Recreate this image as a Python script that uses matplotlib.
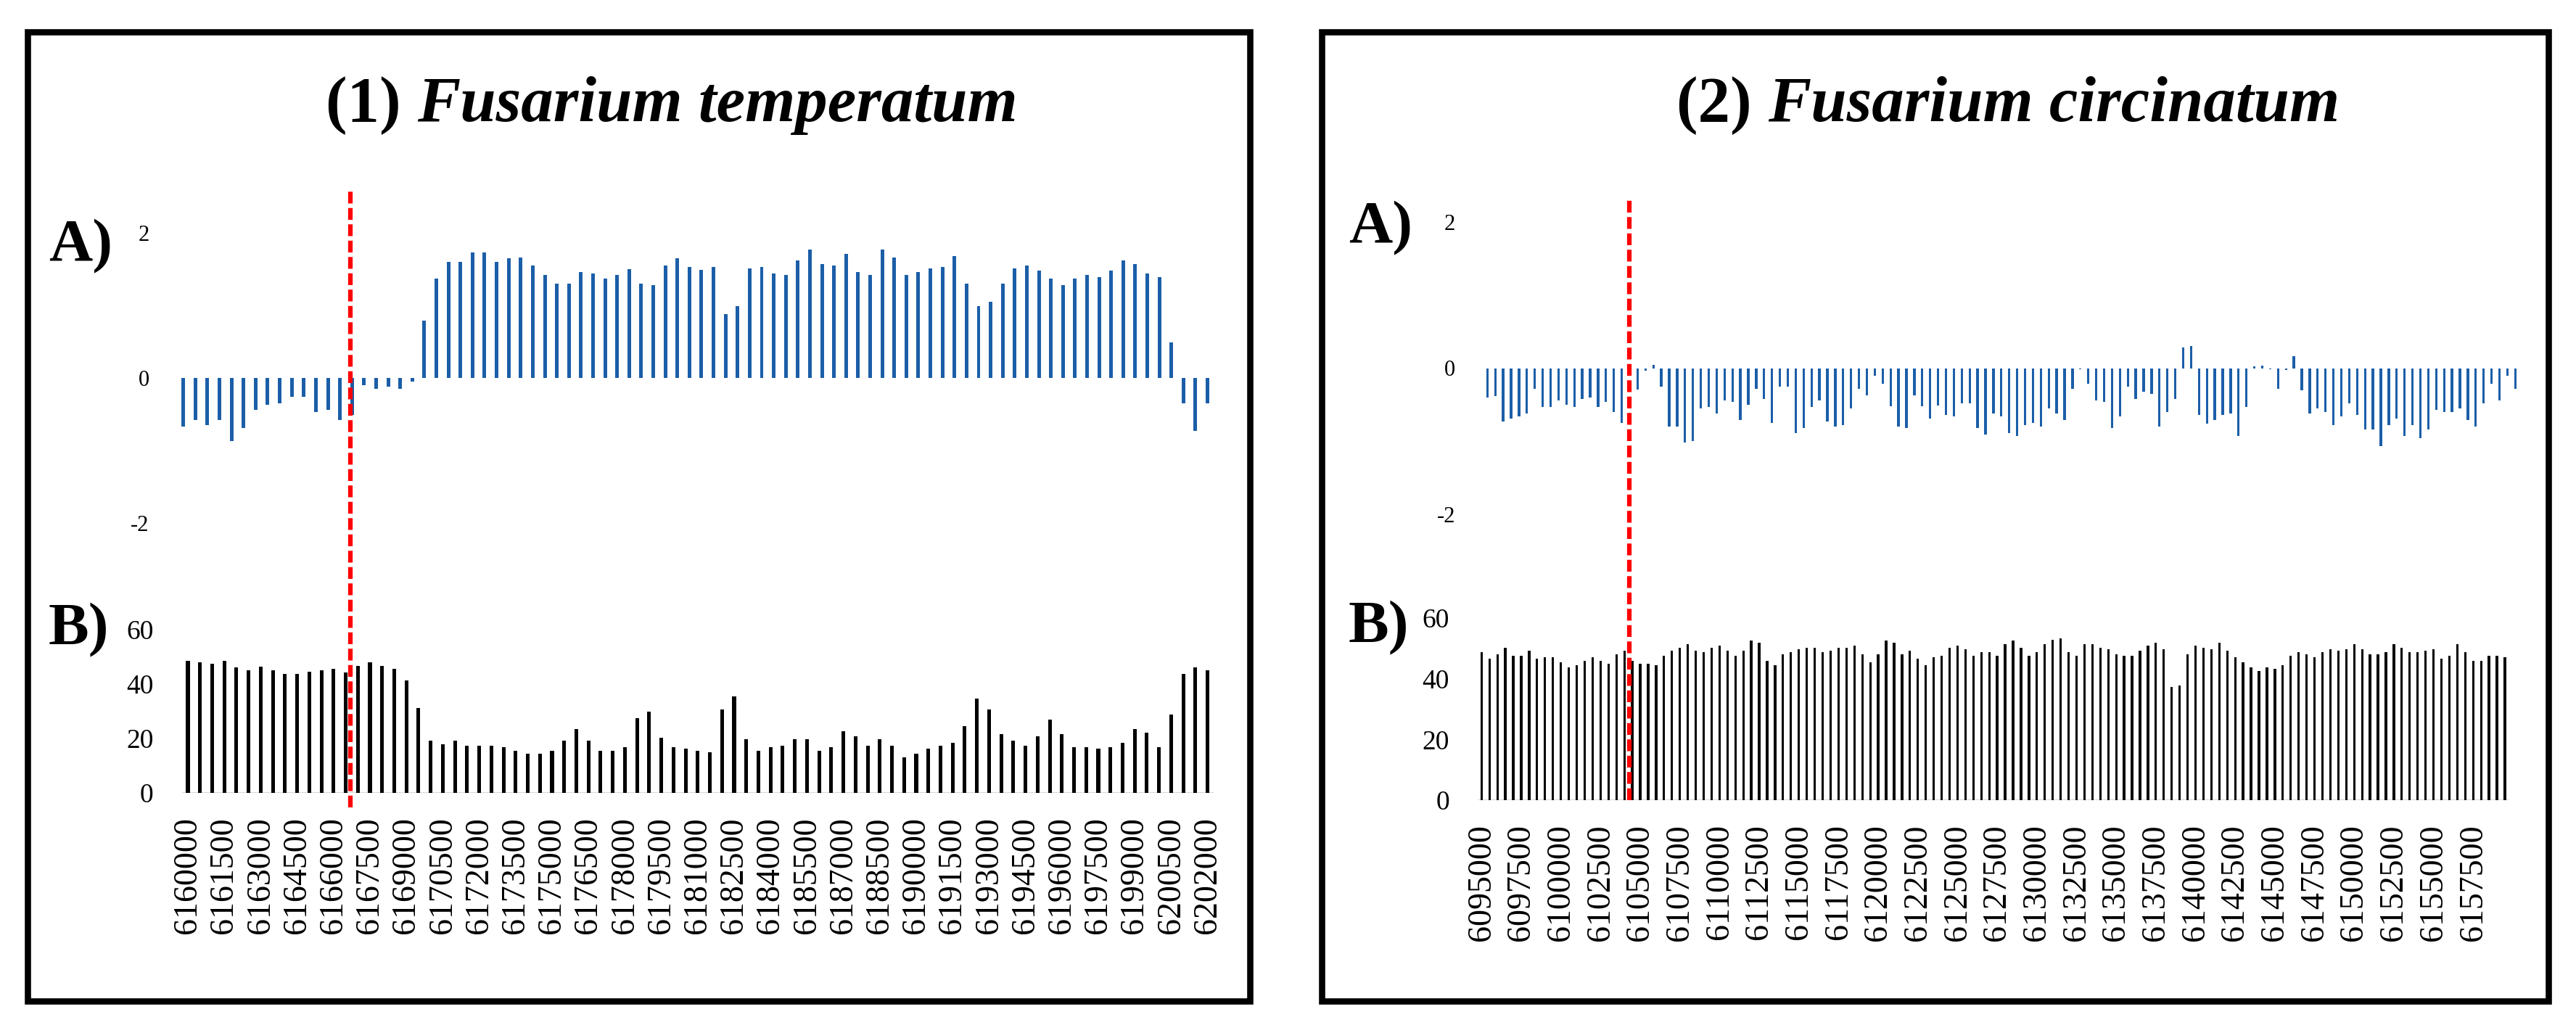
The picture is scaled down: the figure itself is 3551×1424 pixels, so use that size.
import numpy as np
import matplotlib
matplotlib.use("Agg")
import matplotlib.pyplot as plt
from matplotlib.patches import Rectangle

plt.rcParams['font.family'] = ['Liberation Serif', 'DejaVu Serif']

# ---- data ----
titles = ["(1) ", "(2) "]
species = ["Fusarium temperatum", "Fusarium circinatum"]

# panel 1 : A) hydropathy-like profile, B) GC content
p1_a = [-0.67, -0.58, -0.65, -0.58, -0.87, -0.69, -0.44, -0.37, -0.35, -0.26,
        -0.26, -0.47, -0.44, -0.58, -0.51, -0.10, -0.15, -0.12, -0.15, -0.05,
        0.79, 1.37, 1.60, 1.60, 1.73, 1.73, 1.60, 1.65, 1.66, 1.55,
        1.42, 1.30, 1.30, 1.46, 1.44, 1.37, 1.42, 1.50, 1.30, 1.28,
        1.55, 1.65, 1.53, 1.49, 1.53, 0.88, 0.99, 1.51, 1.53, 1.44,
        1.42, 1.62, 1.77, 1.57, 1.55, 1.71, 1.46, 1.42, 1.77, 1.66,
        1.42, 1.46, 1.51, 1.53, 1.68, 1.30, 0.99, 1.05, 1.30, 1.51,
        1.55, 1.48, 1.37, 1.28, 1.37, 1.42, 1.39, 1.48, 1.62, 1.57,
        1.44, 1.39, 0.49, -0.35, -0.73, -0.35]
p1_b = [48.5, 47.9, 47.4, 48.5, 46.1, 45.0, 46.3, 45.0, 43.8, 43.8,
        44.5, 45.0, 45.6, 44.4, 46.8, 47.9, 46.8, 45.6, 41.3, 31.3,
        19.1, 18.0, 19.1, 17.4, 17.4, 17.4, 16.8, 15.6, 14.3, 14.3,
        15.6, 19.1, 23.4, 19.1, 15.6, 15.6, 16.8, 27.5, 29.9, 20.4,
        16.8, 16.3, 15.6, 14.9, 30.6, 35.4, 19.7, 15.6, 16.8, 17.4,
        19.7, 19.7, 15.6, 16.8, 22.7, 20.9, 17.4, 19.7, 17.4, 13.2,
        14.3, 16.3, 17.4, 18.5, 24.5, 34.8, 30.6, 21.6, 19.1, 17.4,
        20.9, 27.0, 21.6, 16.8, 16.8, 16.3, 16.8, 18.5, 23.4, 22.2,
        16.8, 28.8, 43.8, 46.1, 45.0]
p1_labels = ["6160000", "6161500", "6163000", "6164500", "6166000", "6167500",
             "6169000", "6170500", "6172000", "6173500", "6175000", "6176500",
             "6178000", "6179500", "6181000", "6182500", "6184000", "6185500",
             "6187000", "6188500", "6190000", "6191500", "6193000", "6194500",
             "6196000", "6197500", "6199000", "6200500", "6202000"]

p2_a = [-0.40, -0.38, -0.73, -0.69, -0.66, -0.62, -0.28, -0.53, -0.53, -0.44,
        -0.50, -0.53, -0.42, -0.40, -0.53, -0.46, -0.60, -0.75, -0.08, -0.29,
        -0.03, 0.04, -0.25, -0.80, -0.80, -1.02, -1.00, -0.55, -0.53, -0.62,
        -0.44, -0.46, -0.71, -0.50, -0.28, -0.42, -0.75, -0.25, -0.25, -0.89,
        -0.82, -0.53, -0.44, -0.73, -0.80, -0.78, -0.55, -0.28, -0.37, -0.10,
        -0.21, -0.52, -0.80, -0.82, -0.37, -0.52, -0.69, -0.51, -0.64, -0.66,
        -0.48, -0.48, -0.82, -0.91, -0.62, -0.66, -0.89, -0.93, -0.78, -0.75,
        -0.80, -0.55, -0.62, -0.71, -0.28, -0.01, -0.21, -0.44, -0.46, -0.82,
        -0.66, -0.25, -0.42, -0.32, -0.35, -0.80, -0.60, -0.42, 0.28, 0.30,
        -0.64, -0.76, -0.71, -0.64, -0.62, -0.93, -0.53, 0.02, 0.03, -0.01,
        -0.28, -0.02, 0.16, -0.30, -0.62, -0.55, -0.60, -0.78, -0.66, -0.48,
        -0.64, -0.84, -0.84, -1.07, -0.78, -0.69, -0.93, -0.78, -0.96, -0.84,
        -0.57, -0.60, -0.60, -0.55, -0.71, -0.80, -0.48, -0.21, -0.44, -0.10,
        -0.28]
p2_b = [48.7, 46.6, 48.1, 50.3, 47.6, 47.6, 49.2, 46.6, 47.1, 47.1,
        45.4, 43.8, 44.4, 46.0, 47.1, 46.0, 44.9, 48.1, 49.2, 46.0,
        44.9, 44.9, 44.4, 47.5, 49.2, 50.3, 51.4, 49.2, 48.7, 50.3,
        50.8, 49.2, 47.5, 49.2, 52.5, 51.9, 46.0, 44.4, 48.1, 48.7,
        49.7, 50.3, 50.3, 48.7, 49.2, 50.3, 50.3, 50.8, 48.1, 45.4,
        48.1, 52.5, 51.9, 48.1, 49.2, 46.6, 44.4, 47.1, 47.5, 50.3,
        50.8, 49.7, 47.5, 48.7, 48.7, 47.5, 51.4, 52.5, 50.3, 47.5,
        48.7, 51.4, 52.9, 53.4, 48.7, 47.5, 51.4, 51.4, 50.3, 49.7,
        48.1, 47.5, 47.5, 49.2, 50.8, 51.9, 49.7, 37.3, 37.7, 48.1,
        50.8, 50.3, 49.7, 51.9, 49.2, 47.1, 45.4, 43.8, 42.6, 43.8,
        43.3, 44.4, 47.5, 48.7, 48.1, 47.1, 48.7, 49.7, 49.2, 49.7,
        51.4, 49.7, 48.1, 48.1, 48.7, 51.4, 50.3, 48.7, 48.7, 49.2,
        49.7, 46.6, 47.5, 51.4, 48.7, 46.0, 46.0, 47.5, 47.5, 47.1]
p2_labels = ["6095000", "6097500", "6100000", "6102500", "6105000", "6107500",
             "6110000", "6112500", "6115000", "6117500", "6120000", "6122500",
             "6125000", "6127500", "6130000", "6132500", "6135000", "6137500",
             "6140000", "6142500", "6145000", "6147500", "6150000", "6152500",
             "6155000", "6157500"]

starts = [6160000, 6095000]
window_step = 500
split_pos = [6166700, 6104300]   # dashed red marker

# ---- layout (pixels) ----
W, H = 3551, 1424
BLUE = "#1b5ea8"
fig = plt.figure(figsize=(W / 100, H / 100), dpi=100)


def add_px_axes(x_first, x_last, n, y_lo_px, y_hi_px, ylo, yhi):
    step = (x_last - x_first) / (n - 1)
    left = x_first - step / 2
    right = x_last + step / 2
    ax = fig.add_axes([left / W, 1 - y_lo_px / H, (right - left) / W,
                       (y_lo_px - y_hi_px) / H])
    ax.set_xlim(-0.5, n - 0.5)
    ax.set_ylim(ylo, yhi)
    ax.patch.set_alpha(0)
    for s in ax.spines.values():
        s.set_visible(False)
    ax.tick_params(length=0)
    return ax


panels = [
    dict(a=p1_a, b=p1_b, labels=p1_labels, every=3, box=(38, 1723),
         a_x=(252.7, 1664.6), b_x=(259.0, 1664.6),
         a_y=(721, 321), b_y=(1093, 868), red_y=(1113, 258),
         title_x=449, A_y=359, B_y=888, lab_x=67),
    dict(a=p2_a, b=p2_b, labels=p2_labels, every=5, box=(1822, 3513),
         a_x=(2050.3, 3467.3), b_x=(2042.3, 3453.0),
         a_y=(709, 306), b_y=(1103, 852), red_y=(1103, 271),
         title_x=2311, A_y=334, B_y=885, lab_x=1859),
]

for k, p in enumerate(panels):
    # frame around each panel
    x0, x1 = p["box"]
    fig.add_artist(Rectangle((x0 / W, 1 - 1380 / H), (x1 - x0) / W,
                             (1380 - 43.5) / H, transform=fig.transFigure,
                             fill=False, lw=6.2, ec="black"))

    # A) profile
    axa = add_px_axes(*p["a_x"], len(p["a"]), *p["a_y"], -2, 2)
    axa.bar(np.arange(len(p["a"])), p["a"], width=0.3, color=BLUE)
    axa.set_xticks([])
    axa.set_yticks([-2, 0, 2])
    axa.set_yticklabels(["-2", "0", "2"], fontsize=22)
    axa.tick_params(axis="y", pad=28)

    # B) GC content
    axb = add_px_axes(*p["b_x"], len(p["b"]), *p["b_y"], 0, 60)
    axb.bar(np.arange(len(p["b"])), p["b"], width=0.3, color="black")
    axb.axhline(0, color="#d9d9d9", lw=1.6, zorder=0)
    axb.set_yticks([0, 20, 40, 60])
    axb.set_yticklabels(["0", "20", "40", "60"], fontsize=27)
    axb.tick_params(axis="y", pad=28)
    ticks = np.arange(0, len(p["b"]), p["every"])[:len(p["labels"])]
    axb.set_xticks(ticks)
    axb.set_xticklabels(p["labels"], rotation=90, fontsize=33)
    axb.tick_params(axis="x", pad=24)
    axb.set_zorder(3)

    # dashed marker through both plots
    xr = (split_pos[k] - starts[k]) / window_step
    lo, hi = p["b_y"]
    ylo_f = (lo - p["red_y"][0]) / (lo - hi)
    yhi_f = (lo - p["red_y"][1]) / (lo - hi)
    axb.axvline(xr, ymin=ylo_f, ymax=yhi_f, color="#ff0000", lw=4.5,
                ls=(0, (2.6, 1.0)), clip_on=False, zorder=5)

    # title: "(n) " upright bold + species bold italic
    t1 = fig.text(p["title_x"] / W, 1 - 167 / H, titles[k], fontsize=64,
                  fontweight="bold", ha="left", va="baseline")
    axa.annotate(species[k], xy=(1, 0), xycoords=t1, fontsize=64,
                 fontweight="bold", fontstyle="italic", ha="left",
                 va="bottom", annotation_clip=False)

    # panel letters
    fig.text(p["lab_x"] / W, 1 - p["A_y"] / H, "A)", fontsize=60,
             fontweight="bold", ha="left", va="baseline")
    fig.text(p["lab_x"] / W, 1 - p["B_y"] / H, "B)", fontsize=60,
             fontweight="bold", ha="left", va="baseline")

fig.savefig("out.png", dpi=100)
